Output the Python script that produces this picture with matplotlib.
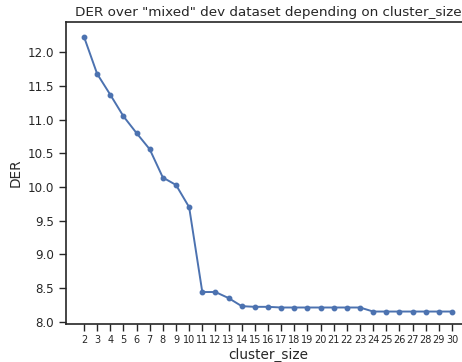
import numpy as np
import matplotlib
matplotlib.use("Agg")
import matplotlib.pyplot as plt
import seaborn as sns

# DER vs cluster_size
cluster_size = list(range(2, 31))
der = [12.23, 11.68, 11.37, 11.05, 10.80, 10.56, 10.14, 10.03, 9.70,
       8.44, 8.44, 8.35, 8.23, 8.22, 8.22, 8.21, 8.21, 8.21, 8.21, 8.21,
       8.21, 8.21, 8.15, 8.15, 8.15, 8.15, 8.15, 8.15, 8.15]

sns.set_style("ticks")
plt.rcParams['text.color'] = '#262626'
plt.rcParams['axes.labelcolor'] = '#262626'
plt.rcParams['xtick.color'] = '#262626'
plt.rcParams['ytick.color'] = '#262626'

fig = plt.figure(figsize=(4.62, 3.62), dpi=100)
ax = fig.add_axes([66/462, 1-324/362, (470-66)/462, (324-22)/362])

ax.plot(cluster_size, der, color="#4c72b0", marker="o", markersize=3.2, linewidth=1.4)

ax.set_xticks(cluster_size)
ax.set_xlim(0.63, 31.37)
ax.set_ylim(7.965, 12.45)
ax.set_yticks(np.arange(8.0, 12.01, 0.5))
ax.tick_params(axis="x", labelsize=7, length=5, width=1, pad=3)
ax.tick_params(axis="y", labelsize=8.6, length=5, width=1, pad=3.5)
for s in ax.spines.values():
    s.set_linewidth(1.2)
    s.set_color('#262626')

ax.set_xlabel("cluster_size", fontsize=9.8, labelpad=2)
ax.set_ylabel("DER", fontsize=9.8, labelpad=4)
ax.set_title('DER over "mixed" dev dataset depending on cluster_size', fontsize=9.7, pad=4)

fig.savefig("out.png", dpi=100)
